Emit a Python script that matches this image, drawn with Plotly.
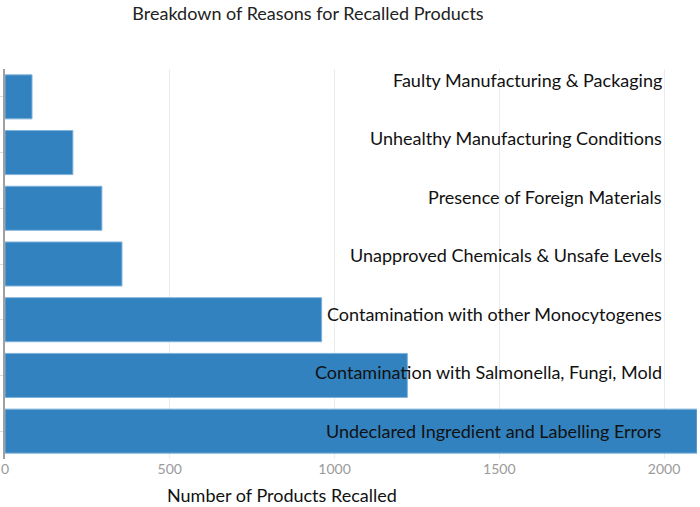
import plotly.graph_objects as go

categories = [
    "Faulty Manufacturing & Packaging",
    "Unhealthy Manufacturing Conditions",
    "Presence of Foreign Materials",
    "Unapproved Chemicals & Unsafe Levels",
    "Contamination with other Monocytogenes",
    "Contamination with Salmonella, Fungi, Mold",
    "Undeclared Ingredient and Labelling Errors",
]
recalled = [82, 206, 294, 355, 961, 1221, 2100]
x_ticks = [0, 500, 1000, 1500, 2000]

FONT = "Lato, 'Open Sans', sans-serif"

W, H = 700, 507
m_l, m_r, m_t, m_b = 5, 3, 69, 48

fig = go.Figure()
fig.add_trace(go.Bar(
    y=categories,
    x=recalled,
    orientation="h",
    marker=dict(color="#3282bf", line=dict(color="#7fb2dc", width=1)),
    hoverinfo="x+y",
    showlegend=False,
))

# hidden scatter on a second y axis that carries the label positions
fig.add_trace(go.Scatter(
    x=[2000] * len(categories),
    y=list(range(len(categories))),
    yaxis="y2",
    mode="markers",
    marker=dict(opacity=0),
    hoverinfo="skip",
    showlegend=False,
))

for i, name in enumerate(categories):
    fig.add_annotation(
        x=2000, xref="x", y=i, yref="y2",
        text=name, showarrow=False,
        xanchor="right", yanchor="middle",
        font=dict(family=FONT, size=18, color="#111111"),
    )

fig.add_annotation(
    x=(282 - m_l) / (W - m_l - m_r), xref="paper",
    y=-(495 - (H - m_b)) / (H - m_t - m_b), yref="paper",
    text="Number of Products Recalled", showarrow=False,
    xanchor="center", yanchor="middle",
    font=dict(family=FONT, size=18, color="#111111"),
)

fig.update_layout(
    width=W, height=H,
    margin=dict(l=m_l, r=m_r, t=m_t, b=m_b, autoexpand=False),
    paper_bgcolor="white", plot_bgcolor="white",
    bargap=0.21,
    title=dict(
        text="Breakdown of Reasons for Recalled Products",
        x=308 / W, xanchor="center", xref="container",
        y=1 - 14 / H, yanchor="middle", yref="container",
        font=dict(family=FONT, size=18, color="#222222"),
        automargin=False,
    ),
    xaxis=dict(
        range=[0, 2100],
        tickvals=x_ticks,
        ticktext=[str(v) for v in x_ticks],
        showgrid=True, gridcolor="#ececec", gridwidth=1,
        zeroline=False, showline=False,
        ticks="", ticklen=0,
        tickfont=dict(family=FONT, size=14, color="#9a9a9a"),
        fixedrange=True, automargin=False,
    ),
    yaxis=dict(
        autorange="reversed",
        showticklabels=False,
        showline=True, linecolor="#a0a0a0", linewidth=1.5,
        ticks="outside", ticklen=3, tickcolor="#dddddd",
        showgrid=False, zeroline=False, automargin=False,
    ),
    yaxis2=dict(
        overlaying="y",
        range=[6.479, -0.188],
        visible=False,
    ),
)

fig.write_html(
    "out.html",
    config={"displayModeBar": False},
    post_script="document.body.style.margin='0';document.body.style.overflow='hidden';",
)
